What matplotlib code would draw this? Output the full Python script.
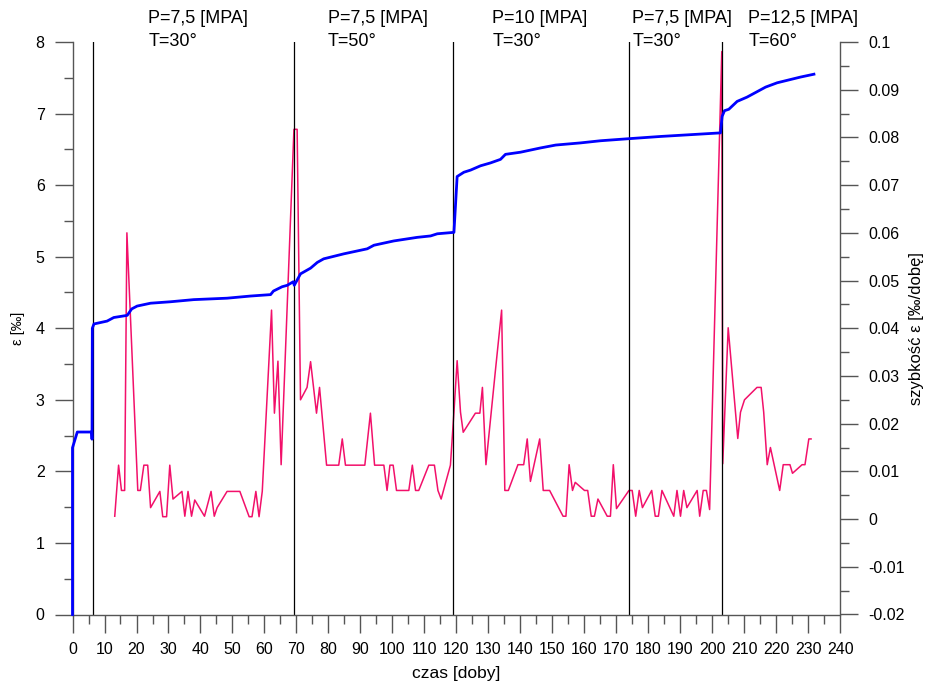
import matplotlib
matplotlib.use("Agg")
import matplotlib.pyplot as plt
from matplotlib.ticker import MultipleLocator, FuncFormatter

plt.rcParams['font.family'] = ['Liberation Sans', 'DejaVu Sans']
plt.rcParams['axes.unicode_minus'] = False

# --- data -------------------------------------------------------------
strain_days = [0, 0, 1.5, 6.0, 6.1, 6.2, 6.7, 8.75, 10.8, 12.9, 17.1, 18.5, 20.2,
               24.4, 30.6, 37.9, 48.3, 55.6, 61.9, 62.8, 65.5, 67.1, 69.0, 69.3,
               71.25, 74.4, 76.5, 78.5, 84.8, 92.1, 94.2, 100.4, 107.7, 111.9,
               114.0, 119.2, 120.2, 122.3, 124.4, 127.5, 130.6, 133.75, 135.3,
               140.0, 146.3, 151.0, 158.75, 165.0, 174.2, 183.75, 202.5, 203.0,
               203.75, 205.1, 207.7, 210.8, 216.6, 220.2, 227.5, 231.7]
strain = [0, 2.33, 2.55, 2.55, 2.45, 4.0, 4.06, 4.08, 4.10, 4.15, 4.18, 4.27, 4.31,
          4.35, 4.37, 4.40, 4.42, 4.45, 4.47, 4.52, 4.58, 4.60, 4.65, 4.60,
          4.76, 4.84, 4.92, 4.97, 5.04, 5.11, 5.16, 5.22, 5.27, 5.29,
          5.32, 5.34, 6.12, 6.18, 6.21, 6.27, 6.31, 6.36, 6.43,
          6.46, 6.52, 6.56, 6.59, 6.62, 6.65, 6.68, 6.73, 6.96,
          7.04, 7.06, 7.17, 7.23, 7.37, 7.43, 7.51, 7.55]

rate_days = [13.2, 14.4, 15.3, 16.3, 17.0, 20.4, 21.2, 22.3, 23.5, 24.4, 27.3, 28.2,
             29.4, 30.4, 31.4, 34.2, 35.1, 36.1, 37.2, 38.2, 41.25, 43.3, 44.3, 45.2,
             48.3, 52.3, 55.2, 56.1, 57.3, 58.3, 59.3, 62.2, 63.1, 64.2, 65.2, 69.2,
             70.2, 71.25, 73.3, 74.4, 76.25, 77.2, 79.4, 83.2, 84.3, 85.3, 91.35, 93.1,
             94.4, 97.3, 98.3, 99.2, 100.2, 101.25, 105.1, 106.2, 107.2, 108.2, 111.35,
             113.1, 114.2, 115.2, 118.1, 119.2, 120.2, 121.25, 122.1, 125.9, 127.3,
             128.1, 129.2, 132.2, 134.1, 135.1, 136.2, 139.2, 141.0, 142.1, 143.1,
             146.0, 147.1, 149.1, 153.3, 154.2, 155.2, 156.25, 157.1, 160.0, 161.0,
             162.1, 163.1, 164.2, 167.1, 168.1, 169.0, 170.0, 173.9, 174.9, 176.0,
             177.1, 178.1, 181.0, 182.1, 183.1, 184.2, 187.9, 188.9, 190.0, 191.0,
             192.0, 195.2, 196.0, 197.1, 198.1, 199.1, 202.9, 203.2, 204.9, 207.9,
             208.75, 210.0, 213.9, 215.2, 216.0, 217.1, 218.1, 221.0, 222.1, 224.2,
             225.0, 228.0, 228.9, 230.1, 230.8]
rate = [0.0006, 0.0113, 0.006, 0.006, 0.060, 0.006, 0.006, 0.0113, 0.0113, 0.0024,
        0.0058, 0.0005, 0.0005, 0.0113, 0.0042, 0.0058, 0.0006, 0.0058, 0.0006, 0.004,
        0.0006, 0.0058, 0.0006, 0.0024, 0.0058, 0.0058, 0.0005, 0.0005, 0.0058, 0.0005,
        0.0058, 0.0438, 0.0222, 0.0331, 0.0114, 0.0817, 0.0817, 0.025, 0.0276, 0.033,
        0.0222, 0.0276, 0.0113, 0.0113, 0.0168, 0.0113, 0.0113, 0.0222, 0.0113, 0.0113,
        0.006, 0.0113, 0.0113, 0.006, 0.006, 0.0113, 0.006, 0.006, 0.0113, 0.0113,
        0.006, 0.0042, 0.0113, 0.0224, 0.0332, 0.0224, 0.0182, 0.0222, 0.0222, 0.0276,
        0.0114, 0.0314, 0.0438, 0.006, 0.006, 0.0114, 0.0114, 0.0168, 0.0079, 0.0168,
        0.006, 0.006, 0.0006, 0.0006, 0.0114, 0.006, 0.0077, 0.006, 0.006, 0.0006,
        0.0006, 0.0042, 0.0006, 0.0006, 0.0114, 0.0022, 0.006, 0.006, 0.0006, 0.006,
        0.0024, 0.006, 0.0006, 0.0006, 0.006, 0.0006, 0.006, 0.0006, 0.006, 0.0024,
        0.006, 0.0006, 0.006, 0.006, 0.002, 0.098, 0.0116, 0.0401, 0.0169, 0.0224,
        0.025, 0.0276, 0.0276, 0.0224, 0.0114, 0.015, 0.006, 0.0114, 0.0114, 0.0096,
        0.0114, 0.0114, 0.0168, 0.0168]

stage_lines = [6.25, 69.1, 119.0, 174.0, 203.1]
stage_label_x = [23.75, 79.7, 131.25, 175.0, 211.25]
stage_labels = ["P=7,5 [MPA]\nT=30°", "P=7,5 [MPA]\nT=50°", "P=10 [MPA]\nT=30°",
                "P=7,5 [MPA]\nT=30°", "P=12,5 [MPA]\nT=60°"]

x_label = "czas [doby]"
y_label = "ε [‰]"
y2_label = "szybkość ε [‰/dobę]"

# --- figure -----------------------------------------------------------
W, H = 925, 688
fig = plt.figure(figsize=(W / 100, H / 100), dpi=100)
L, R, T, B = 72.5, 840.5, 42, 614.5
ax = fig.add_axes([L / W, 1 - B / H, (R - L) / W, (B - T) / H])
ax2 = ax.twinx()

spine_col = '#555555'
blue = '#0000FF'
pink = '#F2106A'

for a in (ax, ax2):
    a.set_xlim(0, 240)
    a.spines['top'].set_visible(False)
    for s in a.spines.values():
        s.set_color(spine_col)
        s.set_linewidth(1.0)
    a.patch.set_visible(False)
ax.spines['right'].set_visible(False)
ax2.spines['left'].set_visible(False)
ax2.spines['bottom'].set_visible(False)

ax.set_ylim(0, 8)
ax2.set_ylim(-0.02, 0.1)

for xv in stage_lines:
    ax.axvline(xv, color='black', lw=0.9, zorder=1)

ax2.plot(rate_days, rate, color=pink, lw=1.1, zorder=2)
ax2.plot(strain_days, [s / 8 * 0.12 - 0.02 for s in strain], alpha=0)  # keep scale
ax.plot(strain_days, strain, color=blue, lw=2.0, zorder=5, clip_on=False)
ax.set_zorder(ax2.get_zorder() + 1)

ax.xaxis.set_major_locator(MultipleLocator(10))
ax.xaxis.set_minor_locator(MultipleLocator(5))
ax.yaxis.set_major_locator(MultipleLocator(1))
ax.yaxis.set_minor_locator(MultipleLocator(0.5))
ax2.yaxis.set_major_locator(MultipleLocator(0.01))
ax2.yaxis.set_minor_locator(MultipleLocator(0.005))

def fmt_rate(v, pos):
    s = f"{v:.2f}".rstrip('0').rstrip('.')
    if s in ('-0', ''):
        s = '0'
    return s

ax2.yaxis.set_major_formatter(FuncFormatter(fmt_rate))

tick_kw = dict(direction='out', color=spine_col, width=1.0, labelsize=11.5, labelcolor='black')
ax.tick_params(axis='both', which='major', length=13, pad=7, **tick_kw)
ax.tick_params(axis='both', which='minor', length=6.5, **tick_kw)
ax2.tick_params(axis='y', which='major', length=13, pad=7, **tick_kw)
ax2.tick_params(axis='y', which='minor', length=6.5, **tick_kw)

ax.set_xlabel(x_label, fontsize=12.5, labelpad=6)
ax.set_ylabel(y_label, fontsize=10.5, labelpad=8)
ax2.set_ylabel(y2_label, fontsize=12, labelpad=3)

trans = ax.get_xaxis_transform()
for xl, txt in zip(stage_label_x, stage_labels):
    ax.text(xl, 1 + (T - 10) / (B - T), txt, transform=trans, ha='left', va='top',
            fontsize=13, linespacing=1.45, clip_on=False)

fig.savefig("out.png", dpi=100)
